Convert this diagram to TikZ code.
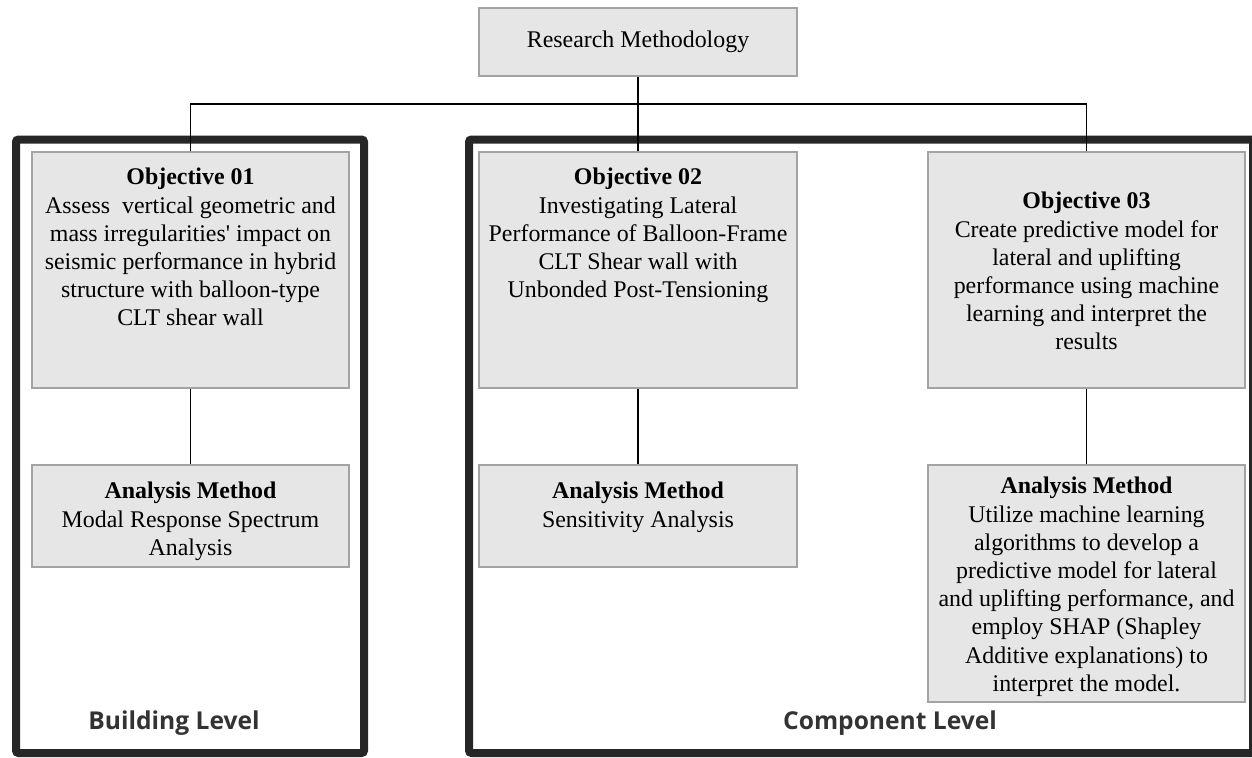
\documentclass[tikz,border=0pt]{standalone}
\usepackage{fontspec}
\usepackage{xcolor}
\setmainfont{Liberation Serif}
\newfontfamily\levelfont{Open Sans}

\definecolor{boxfill}{HTML}{E6E6E6}
\definecolor{boxline}{HTML}{A3A3A3}
\definecolor{framecol}{HTML}{262626}
\definecolor{levelcol}{HTML}{333333}

\tikzset{
  box/.style={draw=boxline, fill=boxfill, line width=0.6pt, inner sep=0pt},
  boxtext/.style={anchor=north, align=center, inner sep=0pt},
  frame/.style={draw=framecol, line width=0.16cm, rounded corners=0.05cm},
  link/.style={draw=black, line width=0.8pt},
  leveltext/.style={anchor=base, text=levelcol, font=\levelfont\bfseries\fontsize{14}{16}\selectfont}
}

\begin{document}
\begin{tikzpicture}[font=\fontsize{13.6}{16.05}\selectfont]
\useasboundingbox (0,0) rectangle (25.04,15.14);

% Level frames
\draw[frame] (0.32,12.35) rectangle (7.28,0.08);
\draw[frame] (9.38,12.35) rectangle (25.06,0.08);

% Boxes
\node[box, minimum width=6.36cm, minimum height=1.36cm] (rm) at (12.76,14.30) {Research Methodology};
\node[box, minimum width=6.34cm, minimum height=4.72cm] (obj1) at (3.81,9.74) {};
\node[box, minimum width=6.36cm, minimum height=4.72cm] (obj2) at (12.76,9.74) {};
\node[box, minimum width=6.34cm, minimum height=4.72cm] (obj3) at (21.73,9.74) {};
\node[box, minimum width=6.34cm, minimum height=2.04cm] (am1) at (3.81,4.82) {};
\node[box, minimum width=6.36cm, minimum height=2.04cm] (am2) at (12.76,4.82) {};
\node[box, minimum width=6.34cm, minimum height=4.74cm] (am3) at (21.73,3.47) {};

% Connectors
\coordinate (bus) at (12.76,13.06);
\draw[link] (rm.south) -- (obj2.north);
\draw[link] (obj1.north) |- (bus) -| (obj3.north);
\draw[link] (obj1.south) -- (am1.north);
\draw[link] (obj2.south) -- (am2.north);
\draw[link] (obj3.south) -- (am3.north);

% Objectives
\node[boxtext] (t1) at (3.81,11.78) {\textbf{Objective 01}\\Assess\ \ vertical geometric and\\mass irregularities\textquotesingle{} impact on\\seismic performance in hybrid\\structure with balloon-type\\CLT shear wall};
\node[boxtext] (t2) at (12.76,11.78) {\textbf{Objective 02}\\Investigating Lateral\\Performance of Balloon-Frame\\CLT Shear wall with\\Unbonded Post-Tensioning};
\node[boxtext] (t3) at (21.73,11.30) {\textbf{Objective 03}\\Create predictive model for\\lateral and uplifting\\performance using machine\\learning and interpret the\\results};

% Analysis methods
\node[boxtext] (a1) at (3.81,5.50) {\textbf{Analysis Method}\\Modal Response Spectrum\\Analysis};
\node[boxtext] (a2) at (12.76,5.50) {\textbf{Analysis Method}\\Sensitivity Analysis};
\node[boxtext] (a3) at (21.73,5.60) {\textbf{Analysis Method}\\Utilize machine learning\\algorithms to develop a\\predictive model for lateral\\and uplifting performance, and\\employ SHAP (Shapley\\Additive explanations) to\\interpret the model.};

% Level labels
\node[leveltext] (bl) at (3.48,0.55) {Building Level};
\node[leveltext] (cl) at (17.80,0.56) {Component Level};

\end{tikzpicture}
\end{document}
